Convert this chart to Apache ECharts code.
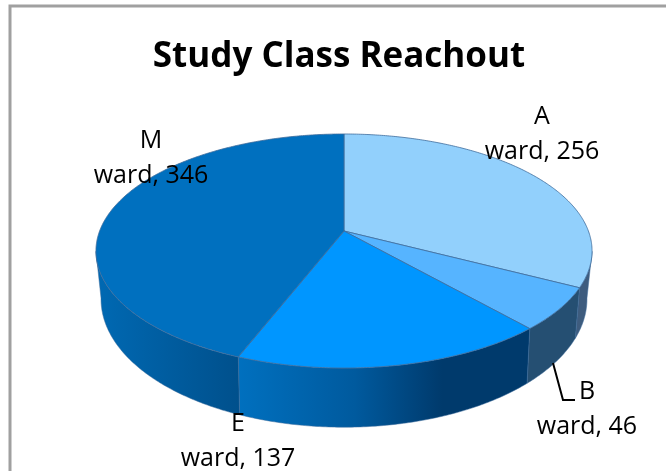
<!DOCTYPE html>
<html><head><meta charset="utf-8">
<style>html,body{margin:0;padding:0;background:#fff}#c{width:666px;height:471px}</style>
<script src="https://cdn.jsdelivr.net/npm/echarts@6/dist/echarts.min.js"></script>
</head><body><div id="c"></div>
<script>
const wards = ['A', 'B', 'E', 'M'];
const reach = [256, 46, 137, 346];
const labelSuffix = 'ward';
const titleText = 'Study Class Reachout';
const topColors = ['#92D0FC', '#56B4FF', '#0096FF', '#0070BF'];
const sideStops = [
  [[0, '#3E5C7E'], [1, '#3E5C7E']],
  [[0, '#254F72'], [1, '#254F72']],
  [[0, '#0070BF'], [0.4, '#005A9E'], [0.7, '#003A6C'], [1, '#003A6C']],
  [[0, '#0069B3'], [1, '#00508C']]
];
const labelAnchors = [[542, 134], [587, 409], [238, 441], [151, 158]];

const total = reach.reduce((a, b) => a + b, 0);
let run = 0;
const rows = reach.map(v => { const r = [v, run, run + v]; run += v; return r; });

// perspective disc: centre x, apex y, half-width, depth scale, foreshortening
const topDisc = { cx: 344, y0: 231, b: 244.4, a: 113.6, k: 0.171 };
const baseDisc = { cx: 344, y0: 276, b: 239, a: 124, k: 0.18 };
const rim = (d, t) => {
  const u = Math.sin(t), v = Math.cos(t), w = 1 + d.k * v;
  return [d.cx + d.b * u / w, d.y0 - d.a * v / w];
};
const angle = c => c / total * Math.PI * 2;
const arc = (d, a0, a1) => {
  const n = Math.max(2, Math.ceil(Math.abs(a1 - a0) / 0.01)), out = [];
  for (let i = 0; i <= n; i++) out.push(rim(d, a0 + (a1 - a0) * i / n));
  return out;
};
const visFrom = 100 * Math.PI / 180, visTo = 260 * Math.PI / 180;

function renderSide(params, api) {
  const i = params.dataIndex;
  const a0 = Math.max(angle(api.value(1)), visFrom), a1 = Math.min(angle(api.value(2)), visTo);
  if (a1 <= a0) return null;
  const pts = arc(topDisc, a0, a1).concat(arc(baseDisc, a1, a0));
  return {
    type: 'polygon',
    shape: { points: pts },
    style: {
      fill: new echarts.graphic.LinearGradient(0, 0, 1, 0,
        sideStops[i].map(s => ({ offset: s[0], color: s[1] }))),
      stroke: '#3F6C9C', lineWidth: 0.5
    }
  };
}
function renderTop(params, api) {
  const i = params.dataIndex;
  const a0 = angle(api.value(1)), a1 = angle(api.value(2));
  const pts = [[topDisc.cx, topDisc.y0]].concat(arc(topDisc, a0, a1));
  return {
    type: 'polygon',
    shape: { points: pts },
    style: { fill: topColors[i], stroke: '#3F6C9C', lineWidth: 0.8 }
  };
}
function renderLabel(params, api) {
  const i = params.dataIndex, p = labelAnchors[i];
  const font = '25px "Open Sans"';
  return {
    type: 'group',
    children: [
      { type: 'text', style: { x: p[0], y: p[1] - 17, text: wards[i], font, fill: '#000', align: 'center', verticalAlign: 'middle' } },
      { type: 'text', style: { x: p[0], y: p[1] + 18, text: labelSuffix + ', ' + api.value(0), font, fill: '#000', align: 'center', verticalAlign: 'middle' } }
    ]
  };
}
const chart = echarts.init(document.getElementById('c'), null, { renderer: 'canvas' });
chart.setOption({
  animation: false,
  backgroundColor: '#fff',
  title: {
    text: titleText, left: 334, top: 35, textAlign: 'center',
    textStyle: { fontFamily: 'Open Sans', fontWeight: 'bold', fontSize: 35, color: '#000' }
  },
  graphic: [
    { type: 'rect', shape: { x: 10, y: 6, width: 700, height: 500 }, style: { fill: 'none', stroke: '#A0A0A0', lineWidth: 3 }, z: 0 },
    { type: 'polyline', shape: { points: [[553, 363], [563, 400], [575, 400]] }, style: { fill: 'none', stroke: '#000', lineWidth: 2 }, z: 10 }
  ],
  series: [
    { type: 'custom', coordinateSystem: 'none', renderItem: renderSide, data: rows, z: 2, silent: true },
    { type: 'custom', coordinateSystem: 'none', renderItem: renderTop, data: rows, z: 3, silent: true },
    { type: 'custom', coordinateSystem: 'none', renderItem: renderLabel, data: rows, z: 4, silent: true }
  ]
});
</script></body></html>
